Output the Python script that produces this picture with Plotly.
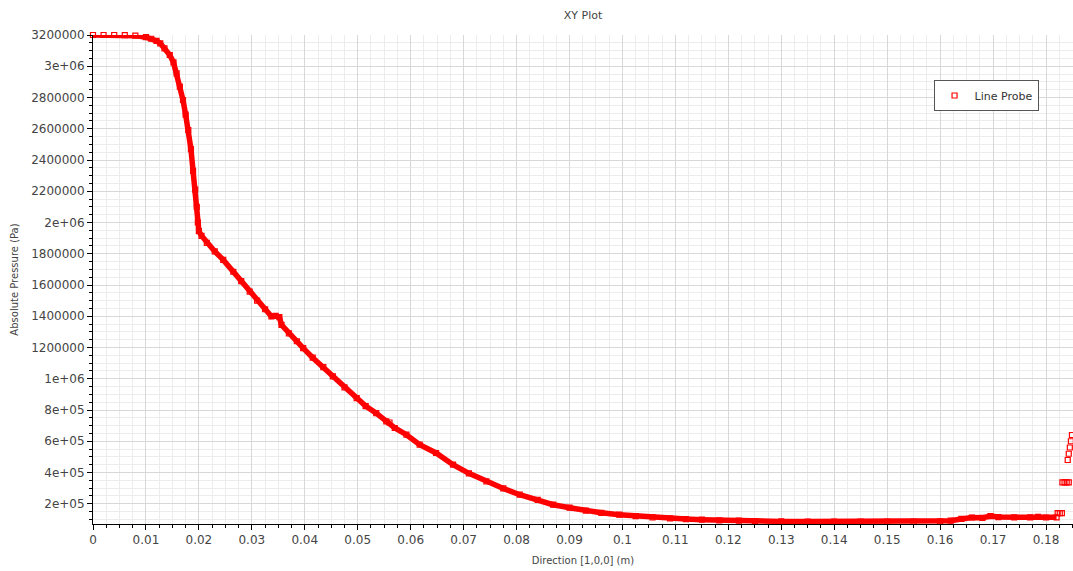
import plotly.graph_objects as go

# Main probe readings
x_main = [0.000, 0.002, 0.004, 0.006, 0.008, 0.0100, 0.0110, 0.0120, 0.0127, 0.0135,
          0.0145, 0.0152, 0.0158, 0.0164, 0.0170, 0.0175, 0.0180, 0.0185, 0.0189, 0.0193,
          0.0196, 0.0198, 0.0200, 0.0205, 0.0215, 0.0230, 0.0246, 0.0265, 0.0280, 0.0296,
          0.0310, 0.0325, 0.0337, 0.0345, 0.0352, 0.0356, 0.0370, 0.0385, 0.0397, 0.0415,
          0.0435, 0.0453, 0.0475, 0.0498, 0.0515, 0.0535, 0.0554, 0.0560, 0.0570, 0.0592,
          0.0617, 0.0648, 0.0680, 0.0710, 0.0743, 0.0775, 0.0806, 0.0840, 0.0869, 0.0900,
          0.0931, 0.0960, 0.0994, 0.1025, 0.1057, 0.1090, 0.1120, 0.1150, 0.1183, 0.1220,
          0.1250, 0.1300, 0.1350, 0.1400, 0.1450, 0.1500, 0.1550, 0.1600, 0.1620, 0.1640,
          0.1660, 0.1680, 0.1695, 0.1710, 0.1740, 0.1770, 0.1785, 0.1800, 0.1820]
p_main = [3200000, 3200000, 3200000, 3199000, 3196000, 3186000, 3176000, 3162000, 3147000, 3115000,
          3072000, 3025000, 2955000, 2870000, 2784000, 2690000, 2592000, 2470000, 2330000, 2210000,
          2100000, 2000000, 1945000, 1915000, 1870000, 1815000, 1761000, 1685000, 1625000, 1558000,
          1500000, 1445000, 1399000, 1402000, 1395000, 1345000, 1290000, 1240000, 1196000, 1135000,
          1075000, 1015000, 945000, 876000, 825000, 780000, 727000, 720000, 685000, 642000,
          578000, 525000, 450000, 395000, 343000, 298000, 258000, 225000, 194000, 175000,
          156000, 142000, 130000, 121000, 113000, 107000, 102000, 98000, 94000, 92000,
          89000, 87000, 86000, 86000, 86000, 86000, 86000, 87000, 92000, 103000,
          112000, 110000, 121000, 115000, 113000, 113000, 116000, 112000, 113000]

# Outlet end readings (jumps at the far right)
x_tail = [0.1822, 0.1826, 0.1830, 0.1831, 0.1835, 0.1839, 0.1843,
          0.1841, 0.1843, 0.1845, 0.1847, 0.1849]
p_tail = [140000, 140000, 140000, 337000, 337000, 337000, 337000,
          480000, 520000, 560000, 600000, 640000]

x_tickvals = [0, 0.01, 0.02, 0.03, 0.04, 0.05, 0.06, 0.07, 0.08, 0.09,
              0.10, 0.11, 0.12, 0.13, 0.14, 0.15, 0.16, 0.17, 0.18]
x_ticktext = ["0", "0.01", "0.02", "0.03", "0.04", "0.05", "0.06", "0.07", "0.08", "0.09",
              "0.1", "0.11", "0.12", "0.13", "0.14", "0.15", "0.16", "0.17", "0.18"]
y_tickvals = [3200000, 3000000, 2800000, 2600000, 2400000, 2200000, 2000000, 1800000,
              1600000, 1400000, 1200000, 1000000, 800000, 600000, 400000, 200000]
y_ticktext = ["3200000", "3e+06", "2800000", "2600000", "2400000", "2200000", "2e+06", "1800000",
              "1600000", "1400000", "1200000", "1e+06", "8e+05", "6e+05", "4e+05", "2e+05"]

RED = "#ff0000"
fig = go.Figure()
fig.add_trace(go.Scatter(x=x_main, y=p_main, mode="lines",
                         line=dict(color=RED, width=5.5), showlegend=False,
                         cliponaxis=False, hoverinfo="skip"))
fig.add_trace(go.Scatter(x=x_main + x_tail, y=p_main + p_tail, mode="markers",
                         name="Line Probe", cliponaxis=False,
                         marker=dict(symbol="square-open", size=5, color=RED,
                                     line=dict(width=1.2, color=RED))))

axis_common = dict(showline=True, linecolor="black", linewidth=1, mirror=False,
                   ticks="outside", ticklen=5, tickcolor="black", tickwidth=1,
                   showgrid=True, gridcolor="#d8d8d8", gridwidth=1, zeroline=False,
                   automargin=False,
                   tickfont=dict(size=12, color="#444"))

fig.update_layout(
    width=1073, height=571,
    margin=dict(l=93, r=0, t=35, b=47),
    plot_bgcolor="white", paper_bgcolor="white",
    font=dict(family="DejaVu Sans", color="#444"),
    title=dict(text="XY Plot", x=0.5, xref="paper", y=1 - 15 / 571, yref="container",
               xanchor="center", yanchor="middle", font=dict(size=11, color="#444"),
               automargin=False),
    legend=dict(x=0.8577, y=0.908, xanchor="left", yanchor="top",
                bordercolor="#555", borderwidth=1, bgcolor="white",
                font=dict(size=11, color="#333"), itemwidth=30),
    xaxis=dict(range=[0, 0.1851], tickmode="array", tickvals=x_tickvals, ticktext=x_ticktext,
               title=dict(text="Direction [1,0,0] (m)", font=dict(size=10, color="#444"), standoff=10),
               minor=dict(tickmode="linear", tick0=0, dtick=0.0025, ticks="outside", ticklen=3,
                          tickcolor="black", showgrid=True, gridcolor="#ececec"),
               **axis_common),
    yaxis=dict(range=[70500, 3200000], tickmode="array", tickvals=y_tickvals, ticktext=y_ticktext,
               title=dict(text="Absolute Pressure (Pa)", font=dict(size=10, color="#444"), standoff=10),
               minor=dict(tickmode="linear", tick0=0, dtick=50000, ticks="outside", ticklen=3,
                          tickcolor="black", showgrid=True, gridcolor="#ececec"),
               **axis_common),
)

fig.write_html("out.html",
               config={"displayModeBar": False},
               post_script="document.body.style.margin='0';document.body.style.overflow='hidden';")
